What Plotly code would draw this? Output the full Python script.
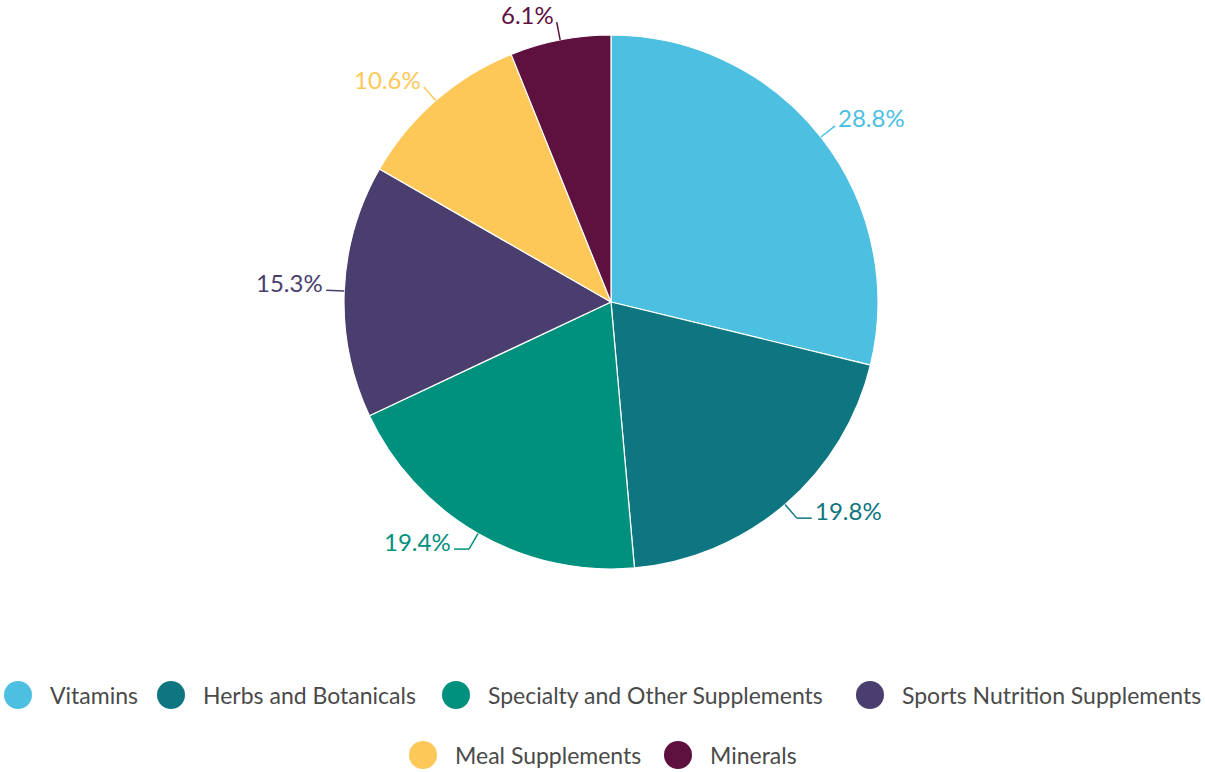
import math
import plotly.graph_objects as go

# Market share of dietary supplements by product type (%)
categories = ["Vitamins", "Herbs and Botanicals", "Specialty and Other Supplements",
              "Sports Nutrition Supplements", "Meal Supplements", "Minerals"]
shares = [28.8, 19.8, 19.4, 15.3, 10.6, 6.1]
colors = ["#4DC0E2", "#0E7680", "#00907E", "#4A3E6F", "#FEC859", "#5E103F"]

W, H = 1205, 772
CX, CY, R = 611, 302, 267          # pie centre and radius in pixels
FONT = "Lato, 'Open Sans', sans-serif"

fig = go.Figure()
fig.add_trace(go.Pie(
    labels=categories, values=shares, sort=False, direction="clockwise", rotation=0,
    marker=dict(colors=colors, line=dict(color="white", width=1.2)),
    textinfo="none", showlegend=False,
    domain=dict(x=[(CX - R) / W, (CX + R) / W], y=[1 - (CY + R) / H, 1 - (CY - R) / H]),
))


def px(x, y):
    return x / W, 1 - y / H


# Outside percentage labels with short leader lines, placed at each slice's mid-angle
total = sum(shares)
cum = 0.0
shapes = []
annotations = []
for cat, v, c in zip(categories, shares, colors):
    mid = (cum + v / 2) / total * 2 * math.pi
    cum += v
    s, co = math.sin(mid), math.cos(mid)
    pts = [(CX + R * s, CY - R * co), (CX + (R + 18) * s, CY - (R + 18) * co)]
    if co < -0.3:
        # lower labels get a short horizontal tail
        ex, ey = pts[-1]
        pts.append((ex + (15 if s > 0 else -15), ey))
    for (ax, ay), (bx, by) in zip(pts[:-1], pts[1:]):
        p, q = px(ax, ay), px(bx, by)
        shapes.append(dict(type="line", xref="paper", yref="paper",
                           x0=p[0], y0=p[1], x1=q[0], y1=q[1],
                           line=dict(color=c, width=1.5)))
    ex, ey = pts[-1]
    tx, ty = px(ex + (1 if s > 0 else -1), ey - 8)
    annotations.append(dict(
        text=f"{v:.1f}%", x=tx, y=ty, xref="paper", yref="paper", showarrow=False,
        xanchor="left" if s > 0 else "right", yanchor="middle",
        font=dict(family=FONT, size=24, color=c),
    ))

# Legend drawn as circles and text in two centred rows
legend_rows = [
    [(0, 18), (1, 171), (2, 456), (3, 870)],
    [(4, 423), (5, 678)],
]
row_y = [695, 755]
for row, ly in zip(legend_rows, row_y):
    for idx, lx in row:
        a, b = px(lx - 14, ly - 14)
        c2, d = px(lx + 14, ly + 14)
        shapes.append(dict(type="circle", xref="paper", yref="paper",
                           x0=a, y0=d, x1=c2, y1=b,
                           fillcolor=colors[idx], line=dict(width=0)))
        tx, ty = px(lx + 30, ly)
        annotations.append(dict(
            text=categories[idx], x=tx, y=ty, xref="paper", yref="paper",
            showarrow=False, xanchor="left", yanchor="middle",
            font=dict(family=FONT, size=23, color="#4a4a4a"),
        ))

fig.update_layout(
    width=W, height=H, margin=dict(l=0, r=0, t=0, b=0),
    paper_bgcolor="white", plot_bgcolor="white",
    shapes=shapes, annotations=annotations,
)
fig.write_html("out.html")
